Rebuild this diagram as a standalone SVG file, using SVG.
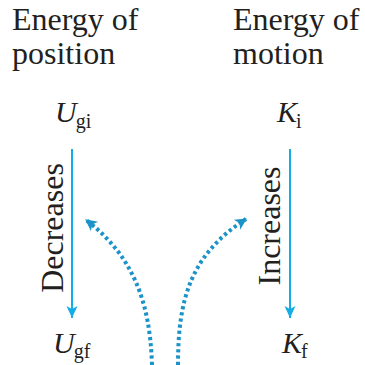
<svg xmlns="http://www.w3.org/2000/svg" width="365" height="365" viewBox="0 0 365 365">
<style>
.t{font-size:32px;fill:#231f20}
.v{font-size:30px;font-style:italic;fill:#231f20}
.s{font-size:20px;font-style:normal}
.solid{stroke:#14ade6;stroke-width:2;fill:none}
.dot{stroke:#1b93c8;stroke-width:4;stroke-dasharray:3.2 3;fill:none}
</style>
<defs>
<marker id="ah" markerUnits="userSpaceOnUse" markerWidth="14" markerHeight="14" viewBox="-12 -6 14 12" refX="0" refY="0" orient="auto">
<path d="M0,0 L-12,-5.5 L-9,0 L-12,5.5 Z" fill="#14ade6"/>
</marker>
<marker id="dh" markerUnits="userSpaceOnUse" markerWidth="14" markerHeight="14" viewBox="-11 -6 13 12" refX="0" refY="0" orient="auto">
<path d="M1,0 L-10,-5.5 L-7,0 L-10,5.5 Z" fill="#1b93c8"/>
</marker>
</defs>
<g font-family="Liberation Serif, Times New Roman, serif">
<g id="label-position"><text class="t" x="12" y="30">Energy of</text><text class="t" x="12" y="64">position</text></g>
<g id="label-motion"><text class="t" x="233" y="30">Energy of</text><text class="t" x="233" y="64">motion</text></g>
<g id="Ugi"><text class="v" x="55" y="122">U<tspan class="s" dx="-1" dy="6">gi</tspan></text></g>
<g id="Ki"><text class="v" x="277" y="122">K<tspan class="s" dx="-1" dy="6">i</tspan></text></g>
<g id="Ugf"><text class="v" x="53" y="353">U<tspan class="s" dx="-1" dy="5">gf</tspan></text></g>
<g id="Kf"><text class="v" x="282" y="353">K<tspan class="s" dx="-1" dy="5">f</tspan></text></g>
<g id="decreases"><text class="t" transform="translate(63,228) rotate(-90)" text-anchor="middle">Decreases</text></g>
<g id="increases"><text class="t" transform="translate(280,226) rotate(-90)" text-anchor="middle">Increases</text></g>
</g>
<g id="connectors">
<line class="solid" x1="72" y1="149" x2="72" y2="318" marker-end="url(#ah)"/>
<line class="solid" x1="290" y1="149" x2="290" y2="318" marker-end="url(#ah)"/>
<path class="dot" d="M152,365 C150,300 132,255 86,220" marker-end="url(#dh)"/>
<path class="dot" d="M178,365 C178,300 190,255 246,219" marker-end="url(#dh)"/>
</g>
</svg>
